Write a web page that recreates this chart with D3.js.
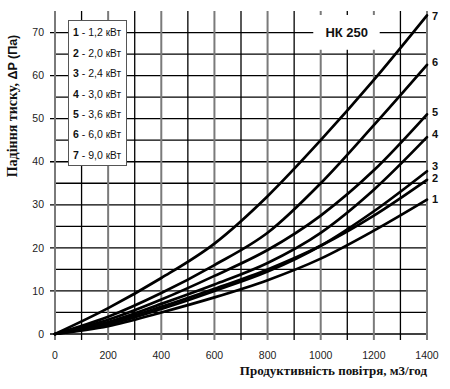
<!DOCTYPE html>
<html>
<head>
<meta charset="utf-8">
<script src="https://cdn.jsdelivr.net/npm/d3@7"></script>
<style>
    body { margin: 0; background: #fff; }
    svg { display: block; }
</style>
</head>
<body>
<div id="chart"></div>
<script>
// air flow, m3/h
const flow = [0, 200, 400, 600, 800, 1000, 1200, 1400];

// pressure drop, Pa (one array per heater power)
const curve1 = [0, 1.8, 5.0, 8.5, 12.5, 17.5, 24.0, 31.2];
const curve2 = [0, 2.5, 6.3, 10.5, 15.0, 20.5, 27.5, 35.8];
const curve3 = [0, 2.2, 5.8, 10.0, 14.5, 20.5, 28.5, 37.8];
const curve4 = [0, 2.8, 7.0, 11.5, 16.5, 23.5, 33.5, 45.7];
const curve5 = [0, 3.3, 8.0, 13.5, 19.5, 27.5, 38.0, 51.0];
const curve6 = [0, 4.0, 9.5, 16.0, 23.5, 35.0, 48.5, 62.5];
const curve7 = [0, 6.0, 13.0, 21.0, 32.0, 45.0, 59.0, 74.0];

const curveNames = ["1", "2", "3", "4", "5", "6", "7"];
const heaterPower = ["1,2", "2,0", "2,4", "3,0", "3,6", "6,0", "9,0"];
// where the number next to each curve end sits (Pa)
const endLabelLevel = [31.4, 36.1, 39.0, 46.5, 51.5, 63.1, 73.8];

const xTickValues = [0, 200, 400, 600, 800, 1000, 1200, 1400];
const yTickValues = [0, 10, 20, 30, 40, 50, 60, 70];

const modelName = "НК 250";
const xTitle = "Продуктивність повітря, м3/год";
const yTitle = "Падіння тиску, ";
const yTitleUnit = "ΔP (Па)";

const width = 450, height = 389;
const plot = { left: 55, right: 427, top: 11, bottom: 334 };

const svg = d3.select("#chart").append("svg")
    .attr("width", width)
    .attr("height", height);

const x = d3.scaleLinear().domain([0, 1400]).range([plot.left, plot.right]);
const y = d3.scaleLinear().domain([0, 75]).range([plot.bottom, plot.top]);

const series = [curve1, curve2, curve3, curve4, curve5, curve6, curve7].map((vals, i) => ({
    name: curveNames[i],
    power: heaterPower[i],
    labelLevel: endLabelLevel[i],
    points: flow.map((q, j) => ({ q, p: vals[j] }))
}));

// grid: horizontal every 5 Pa
const grid = svg.append("g");
grid.selectAll("line.h")
    .data(d3.range(0, 71, 5))
    .join("line")
    .attr("class", "h")
    .attr("x1", d => d % 10 == 0 ? plot.left - 5 : plot.left)
    .attr("x2", plot.right)
    .attr("y1", d => y(d))
    .attr("y2", d => y(d))
    .attr("stroke", "#000")
    .attr("stroke-width", 1.3);

// grid: vertical every 100 m3/h, labelled ones grey
grid.selectAll("line.v")
    .data(d3.range(0, 1401, 100))
    .join("line")
    .attr("class", "v")
    .attr("x1", d => x(d))
    .attr("x2", d => x(d))
    .attr("y1", plot.top)
    .attr("y2", plot.bottom + 6)
    .attr("stroke", d => d % 200 == 0 ? "#7a7a7a" : "#000")
    .attr("stroke-width", d => d % 200 == 0 ? 2 : 1.3);

// tick labels
svg.append("g").selectAll("text")
    .data(yTickValues)
    .join("text")
    .attr("x", plot.left - 11)
    .attr("y", d => y(d))
    .attr("dy", "0.35em")
    .attr("text-anchor", "end")
    .attr("font-family", "Liberation Sans, Arial, sans-serif")
    .attr("font-size", 10.5)
    .attr("fill", "#222")
    .text(d => d);

svg.append("g").selectAll("text")
    .data(xTickValues)
    .join("text")
    .attr("x", d => x(d))
    .attr("y", plot.bottom + 21)
    .attr("dy", "0.35em")
    .attr("text-anchor", "middle")
    .attr("font-family", "Liberation Sans, Arial, sans-serif")
    .attr("font-size", 10.5)
    .attr("fill", "#222")
    .text(d => d);

// model label box over the grid
const model = svg.append("g");
model.append("rect")
    .attr("x", x(972))
    .attr("y", plot.top + 4)
    .attr("width", x(1222) - x(972))
    .attr("height", y(66) - plot.top - 4)
    .attr("fill", "#fff");
model.append("text")
    .attr("x", x(1098))
    .attr("y", y(70))
    .attr("dy", "0.36em")
    .attr("text-anchor", "middle")
    .attr("font-family", "Liberation Sans, Arial, sans-serif")
    .attr("font-weight", "bold")
    .attr("font-size", 13)
    .attr("fill", "#111")
    .text(modelName);

// curves
const line = d3.line()
    .x(d => x(d.q))
    .y(d => y(d.p))
    .curve(d3.curveMonotoneX);

svg.append("g").selectAll("path")
    .data(series)
    .join("path")
    .attr("d", d => line(d.points))
    .attr("fill", "none")
    .attr("stroke", "#000")
    .attr("stroke-width", 2.7)
    .attr("stroke-linecap", "round");

// numbers at curve ends
svg.append("g").selectAll("text")
    .data(series)
    .join("text")
    .attr("x", plot.right + 5)
    .attr("y", d => y(d.labelLevel))
    .attr("dy", "0.36em")
    .attr("font-family", "Liberation Sans, Arial, sans-serif")
    .attr("font-weight", "bold")
    .attr("font-size", 11)
    .attr("fill", "#111")
    .text(d => d.name);

// legend
const legendRow = d3.scalePoint().domain(curveNames).range([32.5, 155]);
const legend = svg.append("g");
legend.append("rect")
    .attr("x", 68.5)
    .attr("y", 20.5)
    .attr("width", 58)
    .attr("height", 145)
    .attr("fill", "#fff")
    .attr("stroke", "#555")
    .attr("stroke-width", 1);

const legendText = legend.selectAll("text")
    .data(series)
    .join("text")
    .attr("x", 73)
    .attr("y", d => legendRow(d.name))
    .attr("dy", "0.36em")
    .attr("font-family", "Liberation Sans, Arial, sans-serif")
    .attr("font-size", 10.5)
    .attr("fill", "#111");
legendText.append("tspan")
    .attr("font-weight", "bold")
    .text(d => d.name);
legendText.append("tspan")
    .text(d => " - " + d.power + " ");
legendText.append("tspan")
    .attr("font-size", 10)
    .text("кВт");

// axis titles
svg.append("text")
    .attr("x", plot.right)
    .attr("y", 375)
    .attr("text-anchor", "end")
    .attr("font-family", "Liberation Serif, Times New Roman, serif")
    .attr("font-weight", "bold")
    .attr("font-size", 13)
    .attr("fill", "#111")
    .text(xTitle);

const yt = svg.append("text")
    .attr("transform", "translate(17, 106) rotate(-90)")
    .attr("text-anchor", "middle")
    .attr("font-weight", "bold")
    .attr("font-size", 14)
    .attr("fill", "#111");
yt.append("tspan")
    .attr("font-family", "Liberation Serif, Times New Roman, serif")
    .text(yTitle);
yt.append("tspan")
    .attr("font-family", "Liberation Sans, Arial, sans-serif")
    .attr("font-size", 12.5)
    .text(yTitleUnit);
</script>
</body>
</html>
